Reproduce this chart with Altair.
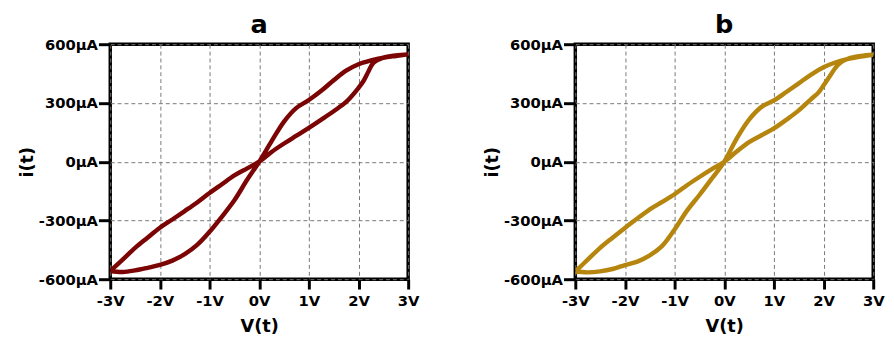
import altair as alt
import pandas as pd

# ---- data ----
# Panel a: steep branch (-3V -> 3V) and return branch (3V -> -3V)
a_up_v = [-3, -2.75, -2.5, -2.25, -2, -1.75, -1.5, -1.25, -1, -0.75, -0.5, -0.25, 0,
          0.25, 0.5, 0.75, 1, 1.25, 1.5, 1.75, 2, 2.25, 2.5, 2.75, 3]
a_up_i = [-558, -563, -555, -542, -527, -505, -472, -425, -358, -280, -197, -95, 0,
          105, 205, 275, 315, 362, 416, 465, 498, 517, 531, 540, 548]
a_dn_v = [3, 2.75, 2.5, 2.3, 2.2, 2.1, 2.0, 1.75, 1.5, 1.25, 1.0, 0.75, 0.5, 0.25, 0,
          -0.25, -0.5, -0.75, -1, -1.25, -1.5, -1.75, -2, -2.25, -2.5, -2.75, -3]
a_dn_i = [548, 543, 532, 505, 461, 412, 377, 305, 258, 215, 173, 133, 93, 50, 0,
          -35, -70, -115, -160, -208, -252, -295, -337, -388, -440, -500, -558]

# Panel b
b_up_v = [-3, -2.75, -2.5, -2.25, -2, -1.75, -1.5, -1.25, -1, -0.75, -0.5, -0.25, 0,
          0.25, 0.5, 0.75, 1, 1.25, 1.5, 1.75, 2, 2.25, 2.5, 2.75, 3]
b_up_i = [-561, -565, -560, -548, -528, -510, -478, -430, -346, -250, -170, -86, 0,
          118, 215, 280, 313, 356, 400, 445, 482, 508, 525, 537, 546]
b_dn_v = [3, 2.75, 2.5, 2.32, 2.23, 2.1, 2.0, 1.9, 1.75, 1.5, 1.25, 1.0, 0.75, 0.5, 0.25, 0,
          -0.25, -0.5, -0.75, -1, -1.25, -1.5, -1.75, -2, -2.25, -2.5, -2.75, -3]
b_dn_i = [546, 540, 527, 501, 476, 427, 390, 354, 320, 262, 214, 170, 135, 100, 52, 0,
          -38, -78, -120, -166, -205, -243, -290, -338, -388, -440, -500, -561]

x_ticks = [-3, -2, -1, 0, 1, 2, 3]
y_ticks = [-600, -300, 0, 300, 600]

panels = [
    ("a", "#7B0404", a_up_v + a_dn_v, a_up_i + a_dn_i),
    ("b", "#B5850E", b_up_v + b_dn_v, b_up_i + b_dn_i),
]

FONT = "DejaVu Sans"


def make_panel(title, color, vs, cs):
    df = pd.DataFrame({"v": vs, "i": cs, "k": list(range(len(vs)))})
    return (
        alt.Chart(df)
        .mark_line(color=color, strokeWidth=4.5, strokeJoin="round", strokeCap="round",
                   interpolate="catmull-rom", clip=True)
        .encode(
            x=alt.X("v:Q",
                    scale=alt.Scale(domain=[-3, 3], nice=False, zero=False),
                    axis=alt.Axis(values=x_ticks, labelExpr="datum.value + 'V'",
                                  title="V(t)")),
            y=alt.Y("i:Q",
                    scale=alt.Scale(domain=[-600, 600], nice=False, zero=False),
                    axis=alt.Axis(values=y_ticks, labelExpr="datum.value + 'μA'",
                                  title="i(t)")),
            order="k:Q",
        )
        .properties(width=303, height=239,
                    title=alt.TitleParams(title, fontSize=26, font=FONT,
                                          fontWeight="bold", color="black", offset=-1))
    )


chart = (
    alt.hconcat(*[make_panel(*p) for p in panels], spacing=62)
    .configure(padding={"left": 9, "top": 0, "right": 0, "bottom": 0})
    .configure_view(stroke="black", strokeWidth=3.5)
    .configure_axis(
        labelFont=FONT, labelFontSize=15, labelFontWeight="bold", labelColor="black",
        titleFont=FONT, titleFontSize=18, titleFontWeight="bold", titleColor="black",
        tickColor="black", tickWidth=3, domain=False,
        grid=True, gridColor="#777777", gridDash=[4, 3], gridWidth=1,
        labelFlush=False, labelOverlap=False,
    )
    .configure_axisX(tickSize=10, labelPadding=5, titlePadding=9)
    .configure_axisY(tickSize=12, labelPadding=1, titlePadding=2)
)

chart.save("out.html", embed_options={"renderer": "svg", "actions": False})
